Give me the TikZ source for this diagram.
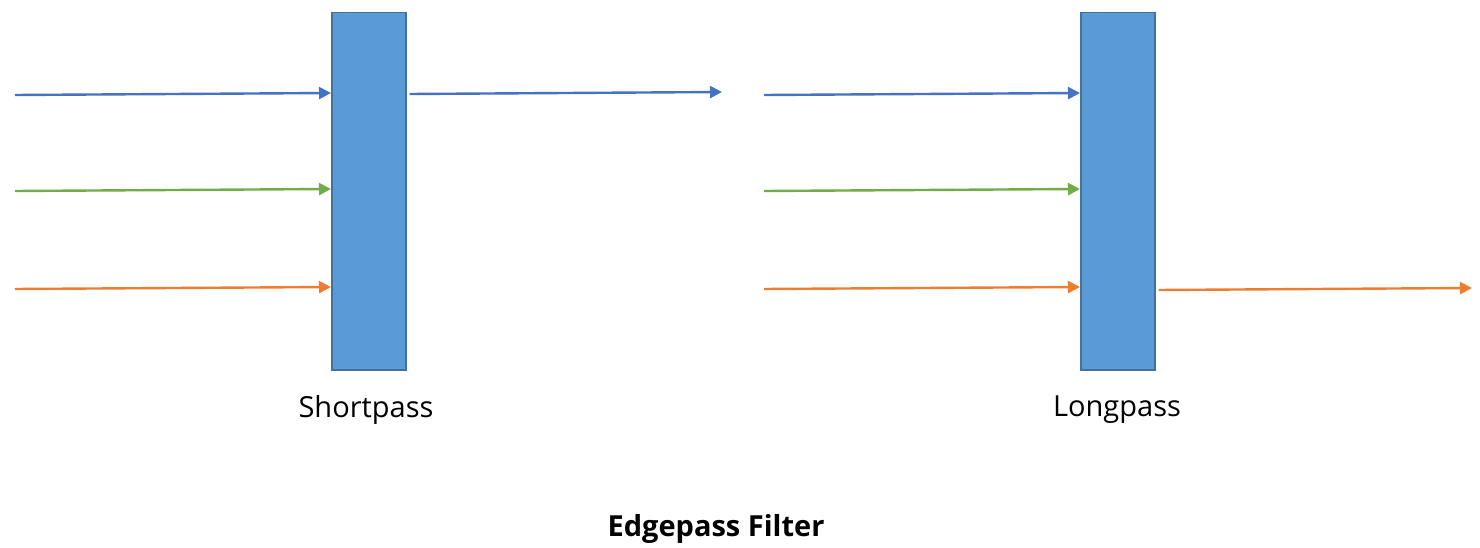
\documentclass[tikz,border=0pt]{standalone}
\usepackage{fontspec}
\setmainfont{Open Sans}
\usetikzlibrary{arrows.meta}
\definecolor{filterfill}{HTML}{5B9BD5}
\definecolor{filterdraw}{HTML}{41719C}
\definecolor{rayblue}{HTML}{4472C4}
\definecolor{raygreen}{HTML}{70AD47}
\definecolor{rayorange}{HTML}{ED7D31}
\begin{document}
\begin{tikzpicture}[x=1pt,y=-1pt,
  filterbox/.style={draw=filterdraw,fill=filterfill,line width=1.5pt,minimum width=74pt,minimum height=357pt,inner sep=0pt,anchor=north west},
  ray/.style={line width=2.4pt,-{Triangle[length=12pt,width=12pt]}},
  lbl/.style={font=\fontsize{29}{34}\selectfont,anchor=center},
  ttl/.style={font=\bfseries\fontsize{29}{34}\selectfont,anchor=center}]
\useasboundingbox (0,0) rectangle (1480,548);
\node[filterbox] (sp) at (331,12) {};
\node[filterbox] (lp) at (1080,12) {};
% free ends
\coordinate (a1) at (15,95);
\coordinate (a2) at (15,191);
\coordinate (a3) at (15,289);
\coordinate (b1) at (764,95);
\coordinate (b2) at (764,191);
\coordinate (b3) at (764,289);
\coordinate (o1) at (722,92);
\coordinate (o2) at (1472,288);
\draw[ray,rayblue] (a1) -- (sp.west |- 0,93);
\draw[ray,raygreen] (a2) -- (sp.west |- 0,189);
\draw[ray,rayorange] (a3) -- (sp.west |- 0,287);
\draw[ray,rayblue] (sp.east |- 0,94) ++(3,0) -- (o1);
\draw[ray,rayblue] (b1) -- (lp.west |- 0,93);
\draw[ray,raygreen] (b2) -- (lp.west |- 0,189);
\draw[ray,rayorange] (b3) -- (lp.west |- 0,287);
\draw[ray,rayorange] (lp.east |- 0,290) ++(3,0) -- (o2);
\node[lbl] (spl) at (366,410) {Shortpass};
\node[lbl] (lpl) at (1117,410) {Longpass};
\node[ttl] (title) at (716,529) {Edgepass Filter};
\end{tikzpicture}
\end{document}
